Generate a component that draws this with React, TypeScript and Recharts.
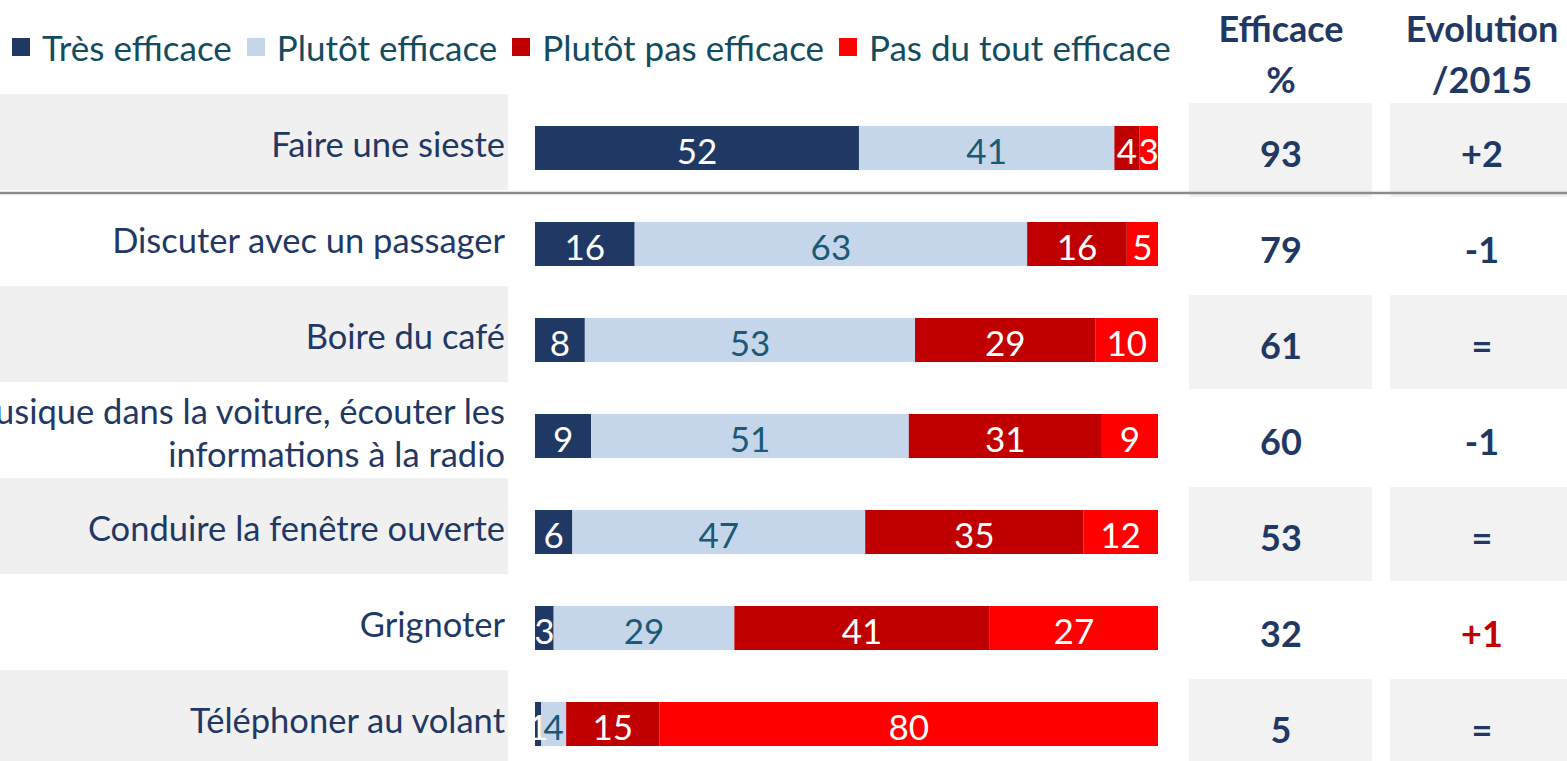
import React from 'react'
import { BarChart, Bar, XAxis, YAxis, LabelList, Legend } from 'recharts'

const categories = [
  'Faire une sieste',
  'Discuter avec un passager',
  'Boire du café',
  'Mettre de la musique dans la voiture, écouter les\ninformations à la radio',
  'Conduire la fenêtre ouverte',
  'Grignoter',
  'Téléphoner au volant',
]
const tres = [52, 16, 8, 9, 6, 3, 1]
const plutot = [41, 63, 53, 51, 47, 29, 4]
const plutotPas = [4, 16, 29, 31, 35, 41, 15]
const pasDuTout = [3, 5, 10, 9, 12, 27, 80]
const efficace = [93, 79, 61, 60, 53, 32, 5]
const evolution = ['+2', '-1', '=', '-1', '=', '+1', '=']

const series = [
  { key: 'tres', name: 'Très efficace', color: '#1f3864', text: '#ffffff' },
  { key: 'plutot', name: 'Plutôt efficace', color: '#c5d6eb', text: '#1a5a74' },
  { key: 'plutotPas', name: 'Plutôt pas efficace', color: '#c00000', text: '#ffffff' },
  { key: 'pasDuTout', name: 'Pas du tout efficace', color: '#ff0000', text: '#ffffff' },
]

const rows = categories.map((name, i) => ({
  name,
  tres: tres[i],
  plutot: plutot[i],
  plutotPas: plutotPas[i],
  pasDuTout: pasDuTout[i],
}))

const FONT = 'Lato, "Open Sans", sans-serif'
const NAVY = '#1f3864'

const LeftTick = (props: any) => {
  const { y, payload } = props
  const i = categories.indexOf(payload.value)
  const lines = String(payload.value).split('\n')
  const start = y - 5 - ((lines.length - 1) * 43) / 2
  return (
    <g>
      {i % 2 === 0 && <rect x={0} y={y - 54} width={508} height={96} fill="#f0f0f0" />}
      <text textAnchor="end" fontFamily={FONT} fontSize={34.5} fill={NAVY} dominantBaseline="central">
        {lines.map((l, k) => (
          <tspan key={k} x={505} y={start + k * 43}>{l}</tspan>
        ))}
      </text>
    </g>
  )
}

const RightTick = (props: any) => {
  const { y, payload } = props
  const i = categories.indexOf(payload.value)
  return (
    <g fontFamily={FONT} fontWeight="bold">
      {i % 2 === 0 && <rect x={1189} y={y - 45} width={183} height={94} fill="#f2f2f2" />}
      {i % 2 === 0 && <rect x={1390} y={y - 45} width={177} height={94} fill="#f2f2f2" />}
      {i === 0 && (
        <g fontSize={36} fill={NAVY} textAnchor="middle">
          <text x={1281} y={y - 106}>Efficace</text>
          <text x={1281} y={y - 55}>%</text>
          <text x={1482} y={y - 106}>Evolution</text>
          <text x={1482} y={y - 55}>/2015</text>
        </g>
      )}
      {i === 0 && <line x1={0} x2={1567} y1={y + 45} y2={y + 45} stroke="#8c8c8c" strokeWidth={2.5} />}
      <text x={1281} y={y + 5} textAnchor="middle" dominantBaseline="central" fontSize={36} fill={NAVY}>
        {efficace[i]}
      </text>
      <text
        x={1482}
        y={y + 5}
        textAnchor="middle"
        dominantBaseline="central"
        fontSize={36}
        fill={evolution[i] === '+1' ? '#c00000' : NAVY}
      >
        {evolution[i]}
      </text>
    </g>
  )
}

const LegendContent = () => (
  <div style={{ display: 'flex', fontFamily: FONT, fontSize: 35, lineHeight: '40px', color: '#134b5f' }}>
    {series.map(s => (
      <div key={s.key} style={{ display: 'flex', alignItems: 'center', marginRight: 15 }}>
        <span style={{ width: 18, height: 18, background: s.color, marginRight: 12, display: 'inline-block' }} />
        <span>{s.name}</span>
      </div>
    ))}
  </div>
)

const makeLabel = (color: string) => (p: any) => {
  const { x, y, width, height, value } = p
  return (
    <text
      x={x + width / 2}
      y={y + height / 2 + 2}
      textAnchor="middle"
      dominantBaseline="central"
      fontFamily={FONT}
      fontSize={35}
      fill={color}
    >
      {value}
    </text>
  )
}

export default function App() {
  return (
    <div style={{ position: 'fixed', left: 0, top: 0, width: 1567, height: 761, overflow: 'hidden', background: '#fff' }}>
      <BarChart
        width={1567}
        height={772}
        data={rows}
        layout="vertical"
        margin={{ top: 100, right: 0, bottom: 0, left: 0 }}
        barSize={44}
      >
        <XAxis type="number" domain={[0, 100]} hide />
        <YAxis
          yAxisId="l"
          type="category"
          dataKey="name"
          width={535}
          axisLine={false}
          tickLine={false}
          interval={0}
          tick={<LeftTick />}
        />
        <YAxis
          yAxisId="r"
          orientation="right"
          type="category"
          dataKey="name"
          width={409}
          axisLine={false}
          tickLine={false}
          interval={0}
          tick={<RightTick />}
        />
        <Legend
          verticalAlign="middle"
          align="center"
          layout="horizontal"
          wrapperStyle={{ top: 27, left: 12, width: 1200 }}
          content={<LegendContent />}
        />
        {series.map(s => (
          <Bar key={s.key} yAxisId="l" dataKey={s.key} name={s.name} stackId="a" fill={s.color} isAnimationActive={false}>
            <LabelList dataKey={s.key} content={makeLabel(s.text)} />
          </Bar>
        ))}
      </BarChart>
    </div>
  )
}
